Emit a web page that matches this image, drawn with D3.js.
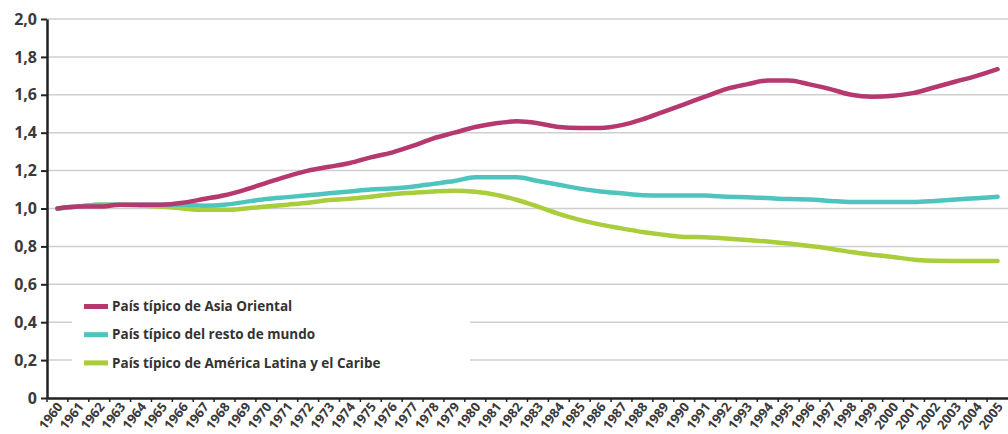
<!DOCTYPE html>
<html><head><meta charset="utf-8">
<script src="https://cdn.jsdelivr.net/npm/d3@7"></script>
<style>body{margin:0;background:#fff}svg{display:block}</style>
</head><body>
<svg id="c" width="1008" height="434"></svg>
<script>
const years = d3.range(1960, 2006).map(String);
const asia = [1.00,1.01,1.01,1.02,1.02,1.02,1.03,1.05,1.07,1.10,1.135,1.17,1.20,1.22,1.24,1.27,1.295,1.33,1.37,1.40,1.43,1.45,1.46,1.45,1.43,1.425,1.425,1.44,1.47,1.51,1.55,1.59,1.63,1.655,1.675,1.675,1.655,1.63,1.60,1.59,1.595,1.61,1.64,1.67,1.70,1.735];
const resto = [1.00,1.01,1.02,1.02,1.02,1.02,1.02,1.015,1.02,1.035,1.05,1.06,1.07,1.08,1.09,1.10,1.105,1.115,1.13,1.145,1.165,1.165,1.165,1.145,1.125,1.105,1.09,1.08,1.07,1.068,1.068,1.068,1.062,1.06,1.055,1.05,1.048,1.04,1.034,1.034,1.034,1.034,1.04,1.048,1.054,1.062];
const latam = [1.00,1.01,1.02,1.02,1.015,1.01,1.00,0.993,0.993,1.00,1.01,1.02,1.03,1.045,1.052,1.062,1.075,1.083,1.09,1.094,1.088,1.072,1.045,1.01,0.972,0.94,0.915,0.895,0.876,0.862,0.85,0.848,0.842,0.834,0.826,0.815,0.802,0.788,0.77,0.756,0.744,0.73,0.724,0.723,0.723,0.723];
const yTicks = [0,0.2,0.4,0.6,0.8,1.0,1.2,1.4,1.6,1.8,2.0];
const seriesNames = ["País típico de Asia Oriental","País típico del resto de mundo","País típico de América Latina y el Caribe"];
const colors = ["#b5386f","#4fc4bf","#a9cd3b"];
const series = [asia, resto, latam];

const FONT = "'Open Sans', sans-serif";
const svg = d3.select("#c");
const L = 47, R = 1008, T = 19, B = 398;
const x = d3.scaleBand().domain(years).range([L, R]);
const y = d3.scaleLinear().domain([0, 2]).range([B, T]);
const fmt = d => d === 0 ? "0" : d.toFixed(1).replace(".", ",");

// grid
svg.append("g").selectAll("line").data(yTicks.filter(d => d > 0)).join("line")
  .attr("x1", L).attr("x2", R).attr("y1", d => y(d)).attr("y2", d => y(d))
  .attr("stroke", "#cfcfcf").attr("stroke-width", 1.5);

// legend box (white, covers grid)
const lg = svg.append("g");
lg.append("rect").attr("x", 72).attr("y", 290).attr("width", 398).attr("height", 92).attr("fill", "#fff");

// y axis
const ya = svg.append("g").attr("transform", `translate(${L},0)`)
  .call(d3.axisLeft(y).tickValues(yTicks).tickFormat(fmt).tickSize(6).tickSizeOuter(0));
ya.select(".domain").attr("stroke", "#222").attr("stroke-width", 2.5);
ya.selectAll(".tick line").attr("stroke", "#222").attr("stroke-width", 2);
ya.selectAll(".tick text").attr("x", -10).attr("fill", "#3a3a3a")
  .style("font-family", FONT).style("font-weight", 700).style("font-size", "16px");

// x axis
const xa = svg.append("g").attr("transform", `translate(0,${B})`)
  .call(d3.axisBottom(x).tickSize(4).tickSizeOuter(0));
xa.select(".domain").attr("stroke", "#222").attr("stroke-width", 2.5);
xa.selectAll(".tick line").attr("stroke", "#222").attr("stroke-width", 1.5)
  .attr("transform", `translate(${-x.bandwidth()/2},0)`);
xa.selectAll(".tick text").attr("fill", "#3a3a3a")
  .style("font-family", FONT).style("font-weight", 700).style("font-size", "13px")
  .attr("text-anchor", "end").attr("dy", null).attr("y", 0)
  .attr("transform", "translate(6,9) rotate(-52)");

// lines
const line = d3.line().x((d, i) => x(years[i]) + x.bandwidth()/2).y(d => y(d)).curve(d3.curveMonotoneX);
svg.append("g").selectAll("path").data(series.slice().reverse()).join("path")
  .attr("d", line).attr("fill", "none")
  .attr("stroke", (d, i) => colors[2 - i]).attr("stroke-width", 4.5)
  .attr("stroke-linecap", "round").attr("stroke-linejoin", "round");

// legend items
const li = lg.selectAll("g.it").data(seriesNames).join("g").attr("class", "it")
  .attr("transform", (d, i) => `translate(84,${306.5 + i * 28.2})`);
li.append("rect").attr("x", 0).attr("y", -2.5).attr("width", 24).attr("height", 5).attr("fill", (d, i) => colors[i]);
li.append("text").attr("x", 28).attr("y", 0).attr("dy", "0.35em").attr("fill", "#333")
  .style("font-family", FONT).style("font-weight", 700).style("font-size", "13.5px").text(d => d);
</script>
</body></html>
